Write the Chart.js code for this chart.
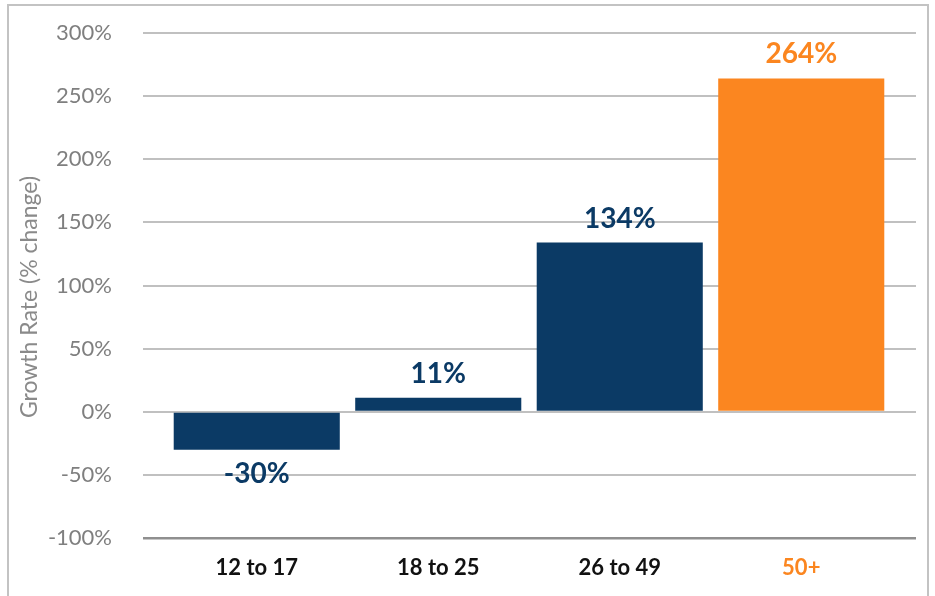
<!DOCTYPE html>
<html>
<head>
<meta charset="utf-8">
<script src="https://cdn.jsdelivr.net/npm/chart.js@4/dist/chart.umd.min.js"></script>
<style>
  html, body { margin: 0; padding: 0; background: #fff; }
  #wrap { position: relative; width: 935px; height: 596px; }
  #frame { position: absolute; left: 7px; top: 4px; width: 918px; height: 600px;
           border: 2px solid #c3c3c3; pointer-events: none; }
</style>
</head>
<body>
<div id="wrap">
  <canvas id="chart" width="935" height="596"></canvas>
  <div id="frame"></div>
</div>
<script>
// ── Data ──────────────────────────────────────────────
const ageGroups   = ["12 to 17", "18 to 25", "26 to 49", "50+"];
const growthRates = [-30, 11, 134, 264];
const valueLabels = ["-30%", "11%", "134%", "264%"];
const yTicks      = [-100, -50, 0, 50, 100, 150, 200, 250, 300];
const axisTitle   = "Growth Rate (% change)";

const NAVY   = "#0b3a65";
const ORANGE = "#fb8620";
const GRID   = "#c0c0c0";
const AXIS   = "#8f8f8f";
const FONT   = "Lato, 'Open Sans', sans-serif";

const barColors = growthRates.map((v, i) => i === growthRates.length - 1 ? ORANGE : NAVY);

// value labels above / below each bar
const valueLabelPlugin = {
  id: "valueLabels",
  afterDatasetsDraw(chart) {
    const { ctx } = chart;
    const meta = chart.getDatasetMeta(0);
    ctx.save();
    ctx.font = "bold 28px " + FONT;
    ctx.textAlign = "center";
    ctx.textBaseline = "middle";
    meta.data.forEach((bar, i) => {
      const v = growthRates[i];
      ctx.fillStyle = barColors[i];
      ctx.fillText(valueLabels[i], bar.x, v >= 0 ? bar.y - 24 : bar.y + 24);
    });
    ctx.restore();
  },
};

// rotated y-axis title
const axisTitlePlugin = {
  id: "axisTitle",
  afterDraw(chart) {
    const { ctx } = chart;
    ctx.save();
    ctx.translate(30, 297);
    ctx.rotate(-Math.PI / 2);
    ctx.font = "23px " + FONT;
    ctx.fillStyle = "#8a8a8a";
    ctx.textAlign = "center";
    ctx.textBaseline = "middle";
    ctx.fillText(axisTitle, 0, 0);
    ctx.restore();
  },
};

const gridColor = (c) => (c.tick && c.tick.value === yTicks[0] ? AXIS : GRID);
const gridWidth = (c) => (c.tick && c.tick.value === yTicks[0] ? 2.5 : 2);

new Chart(document.getElementById("chart"), {
  type: "bar",
  data: {
    labels: ageGroups,
    datasets: [{
      data: growthRates,
      backgroundColor: barColors,
      borderWidth: 0,
      barPercentage: 0.915,
      categoryPercentage: 1,
    }],
  },
  options: {
    responsive: false,
    animation: false,
    layout: { padding: { top: 33, left: 0, right: 0, bottom: 0 } },
    plugins: {
      legend: { display: false },
      tooltip: { enabled: false },
    },
    scales: {
      x: {
        grid: { display: false },
        border: { display: false },
        ticks: {
          padding: 9,
          color: (c) => (c.index === ageGroups.length - 1 ? ORANGE : "#111"),
          font: { family: FONT, size: 22, weight: "bold" },
        },
        afterFit: (s) => { s.height = 58; },
      },
      y: {
        min: yTicks[0],
        max: yTicks[yTicks.length - 1],
        afterBuildTicks: (s) => { s.ticks = yTicks.map(v => ({ value: v })); },
        border: { display: false },
        grid: { color: gridColor, lineWidth: gridWidth, tickLength: 23 },
        ticks: {
          padding: 31,
          color: "#7f7f7f",
          font: { family: FONT, size: 22 },
          callback: (v) => v + "%",
        },
        afterFit: (s) => { s.width = 166; s.paddingTop = 0; s.paddingBottom = 0; },
      },
      yRight: {
        position: "right",
        min: yTicks[0],
        max: yTicks[yTicks.length - 1],
        afterBuildTicks: (s) => { s.ticks = yTicks.map(v => ({ value: v })); },
        border: { display: false },
        grid: { color: gridColor, lineWidth: gridWidth, tickLength: 24, drawOnChartArea: false },
        ticks: { display: false },
        afterFit: (s) => { s.width = 43; s.paddingTop = 0; s.paddingBottom = 0; },
      },
    },
  },
  plugins: [valueLabelPlugin, axisTitlePlugin],
});
</script>
</body>
</html>
